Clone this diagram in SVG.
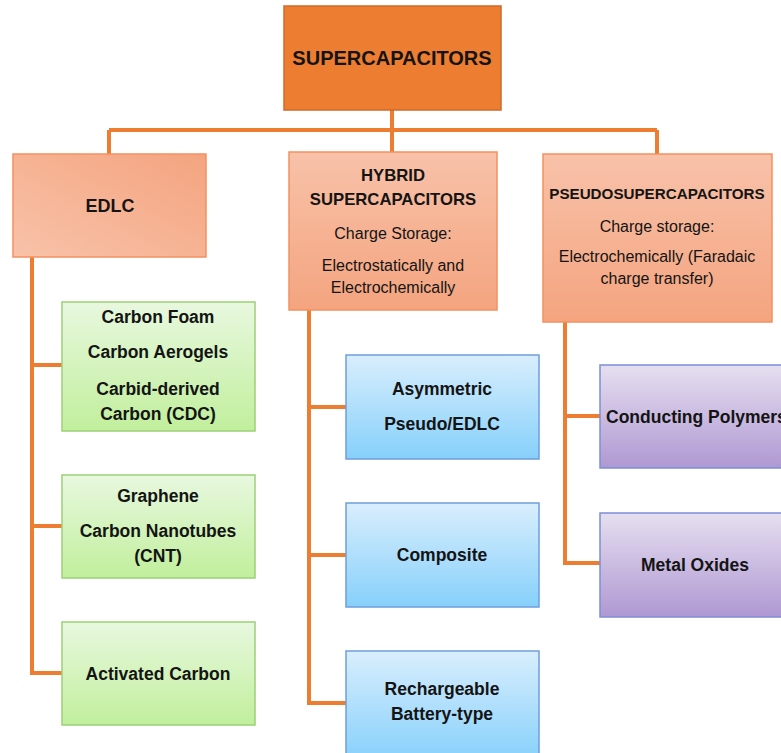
<svg xmlns="http://www.w3.org/2000/svg" width="781" height="753" viewBox="0 0 781 753">
<defs>
<linearGradient id="gSalmon" x1="0" y1="0" x2="0" y2="1"><stop offset="0" stop-color="#F8C2A9"/><stop offset="1" stop-color="#F4A47F"/></linearGradient>
<linearGradient id="gSalmonD" x1="1" y1="0" x2="0" y2="1"><stop offset="0" stop-color="#F4A47F"/><stop offset="1" stop-color="#F8C2A9"/></linearGradient>
<linearGradient id="gGreen" x1="0" y1="0" x2="0" y2="1"><stop offset="0" stop-color="#E8F8DF"/><stop offset="1" stop-color="#C1EF9C"/></linearGradient>
<linearGradient id="gBlue" x1="0" y1="0" x2="0" y2="1"><stop offset="0" stop-color="#D9EEFD"/><stop offset="1" stop-color="#86D0FB"/></linearGradient>
<linearGradient id="gPurple" x1="0" y1="0" x2="0" y2="1"><stop offset="0" stop-color="#E6DFF0"/><stop offset="1" stop-color="#AF98D2"/></linearGradient>
</defs>
<style>
text{font-family:"Liberation Sans",Arial,sans-serif;fill:#141414;text-anchor:middle}
.b{font-weight:bold}
.n{font-size:17.5px;font-weight:bold}
.r{font-size:16px}
.sal{stroke:#F29160;stroke-width:1.5}
.grn{fill:url(#gGreen);stroke:#9DCF78;stroke-width:1.5}
.blu{fill:url(#gBlue);stroke:#6E9EDC;stroke-width:1.5}
.pur{fill:url(#gPurple);stroke:#7C8FD6;stroke-width:1.5}
.c{fill:none;stroke:#ED7D31;stroke-width:4}
</style>
<g id="connectors">
<path class="c" d="M392 110 V152 M109 130 H657 M109 130 V154 M657 130 V154"/>
<path class="c" d="M32 257 V673 H62 M32 365 H62 M32 526 H62"/>
<path class="c" d="M309 310 V703 H346 M309 407 H346 M309 555 H346"/>
<path class="c" d="M565 322 V563 H600 M565 416 H600"/>
</g>
<g id="supercapacitors">
<rect x="284" y="6" width="217" height="104" fill="#ED7D31" stroke="#D0692A" stroke-width="1.5"/>
<text x="392" y="65" class="b" font-size="20">SUPERCAPACITORS</text>
</g>
<g id="edlc">
<rect x="13" y="154" width="193" height="103" fill="url(#gSalmonD)" class="sal"/>
<text x="110" y="212" class="b" font-size="18">EDLC</text>
</g>
<g id="hybrid">
<rect x="289" y="152" width="208" height="158" fill="url(#gSalmon)" class="sal"/>
<text x="393" y="181" class="b" font-size="16.7">HYBRID</text>
<text x="393" y="205" class="b" font-size="16.7">SUPERCAPACITORS</text>
<text x="393" y="239" class="r">Charge Storage:</text>
<text x="393" y="271" class="r">Electrostatically and</text>
<text x="393" y="293" class="r">Electrochemically</text>
</g>
<g id="pseudo">
<rect x="543" y="154" width="229" height="168" fill="url(#gSalmon)" class="sal"/>
<text x="657" y="199" class="b" font-size="15.2">PSEUDOSUPERCAPACITORS</text>
<text x="657" y="232" class="r">Charge storage:</text>
<text x="657" y="262" class="r">Electrochemically (Faradaic</text>
<text x="657" y="284" class="r">charge transfer)</text>
</g>
<g id="carbon-foam">
<rect x="62" y="302" width="193" height="129" class="grn"/>
<text x="158" y="323" class="n">Carbon Foam</text>
<text x="158" y="358" class="n">Carbon Aerogels</text>
<text x="158" y="395" class="n">Carbid-derived</text>
<text x="158" y="420" class="n">Carbon (CDC)</text>
</g>
<g id="graphene">
<rect x="62" y="475" width="193" height="103" class="grn"/>
<text x="158" y="502" class="n">Graphene</text>
<text x="158" y="537" class="n">Carbon Nanotubes</text>
<text x="158" y="562" class="n">(CNT)</text>
</g>
<g id="activated-carbon">
<rect x="62" y="622" width="193" height="103" class="grn"/>
<text x="158" y="680" class="n">Activated Carbon</text>
</g>
<g id="asymmetric">
<rect x="346" y="355" width="193" height="104" class="blu"/>
<text x="442" y="395" class="n">Asymmetric</text>
<text x="442" y="430" class="n">Pseudo/EDLC</text>
</g>
<g id="composite">
<rect x="346" y="503" width="193" height="104" class="blu"/>
<text x="442" y="561" class="n">Composite</text>
</g>
<g id="rechargeable">
<rect x="346" y="651" width="193" height="110" class="blu"/>
<text x="442" y="695" class="n">Rechargeable</text>
<text x="442" y="720" class="n">Battery-type</text>
</g>
<g id="conducting-polymers">
<rect x="600" y="365" width="200" height="103" class="pur"/>
<text x="606" y="423" class="n" style="text-anchor:start">Conducting Polymers</text>
</g>
<g id="metal-oxides">
<rect x="600" y="513" width="200" height="104" class="pur"/>
<text x="695" y="571" class="n">Metal Oxides</text>
</g>
</svg>
